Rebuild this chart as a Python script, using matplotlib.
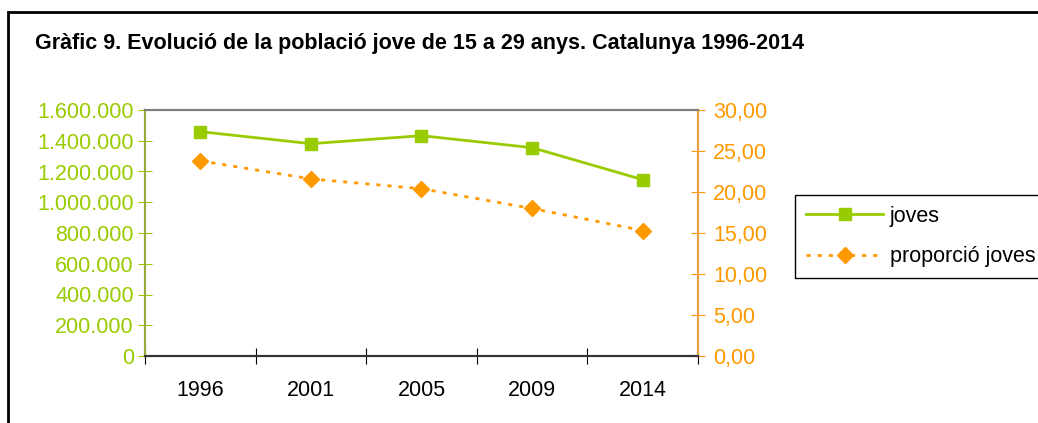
import numpy as np
import matplotlib.pyplot as plt
from matplotlib.patches import Rectangle
from matplotlib.ticker import FuncFormatter

plt.rcParams["font.family"] = ["Liberation Sans", "DejaVu Sans"]

# data
years = ["1996", "2001", "2005", "2009", "2014"]
joves = [1459000, 1381000, 1433000, 1355000, 1147000]
proporcio = [23.8, 21.6, 20.4, 18.0, 15.3]

GREEN = "#99CC00"
ORANGE = "#FF9900"

fig = plt.figure(figsize=(10.38, 4.23), dpi=100)

# outer frame of the chart area (cut by the image edges)
fig.patches.append(Rectangle((8 / 1038, -0.2), 1.2, 1 - 12 / 423 + 0.2,
                             transform=fig.transFigure, fill=False,
                             edgecolor="black", linewidth=2))

fig.text(35 / 1038, 1 - 44 / 423,
         "Gràfic 9. Evolució de la població jove de 15 a 29 anys. Catalunya 1996-2014",
         fontsize=15.5, fontweight="bold", ha="left", va="center")

ax = fig.add_axes([145 / 1038, 1 - 356 / 423, 553 / 1038, 246 / 423])
ax2 = ax.twinx()

x = np.arange(len(years))
l1, = ax.plot(x, joves, color=GREEN, linewidth=2, marker="s", markersize=9,
              label="joves")
l2, = ax2.plot(x, proporcio, color=ORANGE, linewidth=2, marker="D", markersize=8,
               dashes=(1.5, 2.5), label="proporció joves")

ax.set_xlim(-0.5, len(years) - 0.5)
ax.set_ylim(0, 1600000)
ax.set_yticks(np.arange(0, 1600001, 200000))
ax.yaxis.set_major_formatter(FuncFormatter(lambda v, p: f"{int(v):,}".replace(",", ".")))
ax2.set_ylim(0, 30)
ax2.set_yticks(np.arange(0, 31, 5))
ax2.yaxis.set_major_formatter(FuncFormatter(lambda v, p: f"{v:.2f}".replace(".", ",")))

ax.set_xticks(np.arange(-0.5, len(years), 1))
ax.set_xticklabels([])
ax.set_xticks(x, minor=True)
ax.set_xticklabels(years, minor=True)
ax.tick_params(axis="x", which="major", direction="inout", length=12, color="black")
ax.tick_params(axis="x", which="minor", length=0, pad=17, labelsize=15.5)

ax.tick_params(axis="y", direction="inout", length=10, color=GREEN,
               labelcolor=GREEN, labelsize=15.5, pad=3)
ax2.tick_params(axis="y", direction="inout", length=10, color=ORANGE,
                labelcolor=ORANGE, labelsize=15.5, pad=6)

for a in (ax, ax2):
    a.spines["top"].set_color("#808080")
    a.spines["bottom"].set_color("#333333")
    a.spines["left"].set_color("#9aab3c")
    a.spines["right"].set_color("#e8a040")
    for s in a.spines.values():
        s.set_linewidth(1.5)

fig.legend([l1, l2], ["joves", "proporció joves"],
           loc="upper left", bbox_to_anchor=(795 / 1038, 1 - 195 / 423),
           bbox_transform=fig.transFigure, fontsize=15.5, frameon=True,
           fancybox=False, edgecolor="black", framealpha=1,
           handlelength=3.6, handletextpad=0.3, borderaxespad=0,
           borderpad=0.5, labelspacing=0.9)

fig.savefig("out.png", dpi=100)
